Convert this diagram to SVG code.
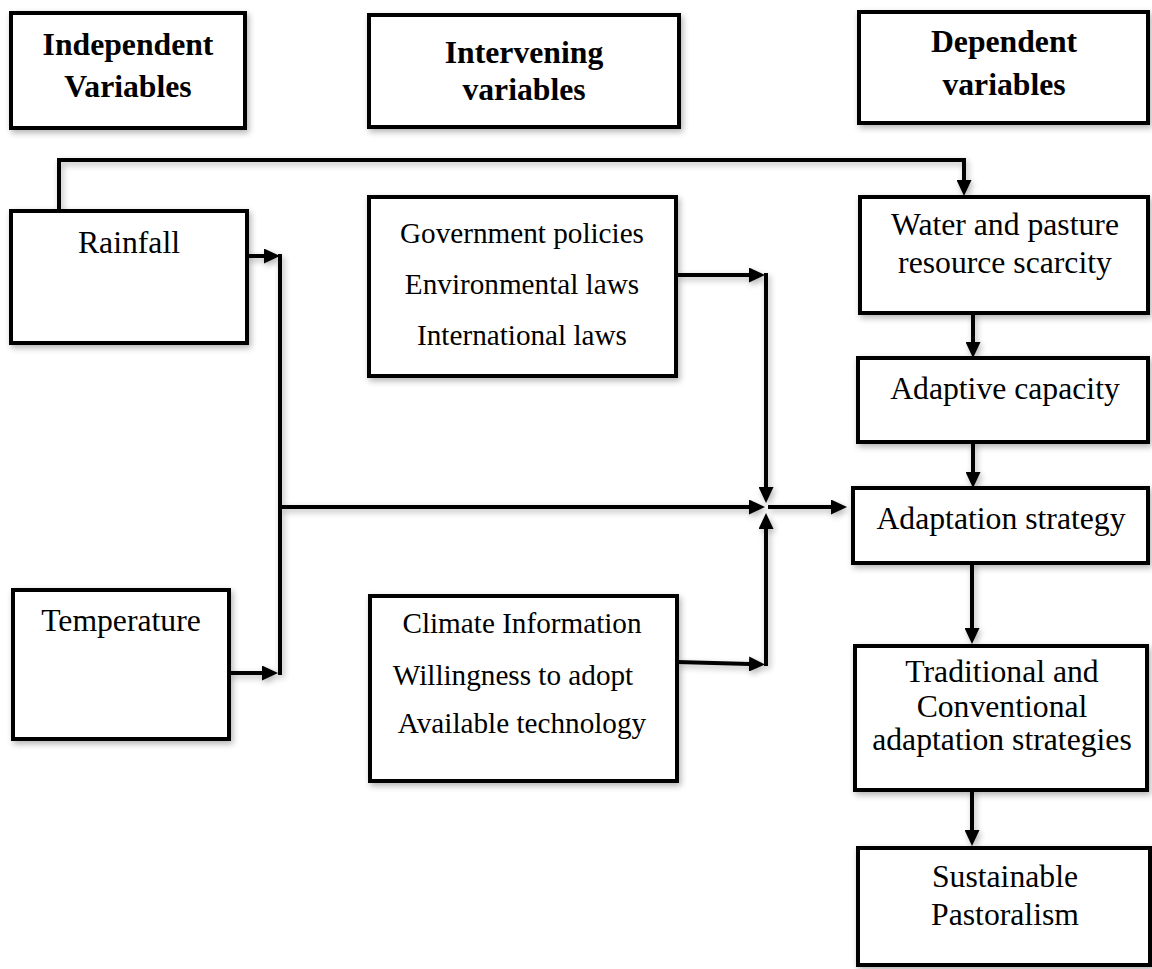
<svg xmlns="http://www.w3.org/2000/svg" width="1152" height="969" viewBox="0 0 1152 969">
<style>
.box{fill:#fff;stroke:#000;stroke-width:4;filter:url(#sh)}
.t{font-family:"Liberation Serif","Times New Roman",serif;font-size:31.7px;fill:#000;text-anchor:middle}
.s{font-size:29.2px}
.b{font-weight:bold}
.c{fill:none;stroke:#000;stroke-width:4;marker-end:url(#ah)}
.n{fill:none;stroke:#000;stroke-width:4}
</style>
<defs>
<filter id="sh" x="-10%" y="-10%" width="125%" height="125%">
<feGaussianBlur in="SourceAlpha" stdDeviation="3"/>
<feOffset dx="2" dy="3" result="b"/>
<feComponentTransfer><feFuncA type="linear" slope="0.3"/></feComponentTransfer>
<feMerge><feMergeNode/><feMergeNode in="SourceGraphic"/></feMerge>
</filter>
<marker id="ah" markerUnits="userSpaceOnUse" markerWidth="16" markerHeight="15" viewBox="0 0 16 15" refX="1" refY="7.5" orient="auto">
<path d="M0,0 L16,7.5 L0,15 z" fill="#000"/>
</marker>
</defs>
<rect width="1152" height="969" fill="#fff"/>
<g id="connectors" filter="url(#sh)">
<path class="c" d="M59,211 V160 H964 V181"/>
<path class="c" d="M247,256 H265"/>
<path class="c" d="M229,673 H263"/>
<path class="n" d="M280,254 V675"/>
<path class="c" d="M282,507 H750"/>
<path class="c" d="M677,275 H750"/>
<path class="c" d="M766,273 V488"/>
<path class="c" d="M677,662 L750,664"/>
<path class="c" d="M766,666 V528"/>
<path class="c" d="M768,507 H832"/>
<path class="c" d="M973,313 V343"/>
<path class="c" d="M973,442 V473"/>
<path class="c" d="M972,563 V629"/>
<path class="c" d="M972,790 V831"/>
</g>
<g id="independent">
<rect class="box" x="11" y="13" width="234" height="115"/>
<text class="t b" x="128" y="55">Independent</text>
<text class="t b" x="128" y="97">Variables</text>
</g>
<g id="intervening">
<rect class="box" x="369" y="15" width="310" height="112"/>
<text class="t b" x="524" y="63">Intervening</text>
<text class="t b" x="524" y="100">variables</text>
</g>
<g id="dependent">
<rect class="box" x="859" y="12" width="289" height="111"/>
<text class="t b" x="1004" y="52">Dependent</text>
<text class="t b" x="1004" y="95">variables</text>
</g>
<g id="rainfall">
<rect class="box" x="11" y="211" width="236" height="132"/>
<text class="t" x="129" y="253">Rainfall</text>
</g>
<g id="temperature">
<rect class="box" x="13" y="590" width="216" height="149"/>
<text class="t" x="121" y="631">Temperature</text>
</g>
<g id="government">
<rect class="box" x="369" y="197" width="307" height="179"/>
<text class="t s" x="522" y="243">Government policies</text>
<text class="t s" x="522" y="294">Environmental laws</text>
<text class="t s" x="522" y="345">International laws</text>
</g>
<g id="climate">
<rect class="box" x="370" y="596" width="307" height="185"/>
<text class="t s" x="522" y="633">Climate Information</text>
<text class="t s" x="513" y="685">Willingness to adopt</text>
<text class="t s" x="522" y="733">Available technology</text>
</g>
<g id="water">
<rect class="box" x="860" y="197" width="288" height="116"/>
<text class="t" x="1005" y="235">Water and pasture</text>
<text class="t" x="1005" y="273">resource scarcity</text>
</g>
<g id="adaptive">
<rect class="box" x="858" y="358" width="290" height="84"/>
<text class="t" x="1005" y="399">Adaptive capacity</text>
</g>
<g id="adaptation">
<rect class="box" x="853" y="488" width="295" height="75"/>
<text class="t" x="1001" y="529">Adaptation strategy</text>
</g>
<g id="traditional">
<rect class="box" x="855" y="646" width="292" height="144"/>
<text class="t" x="1002" y="682">Traditional and</text>
<text class="t" x="1002" y="717">Conventional</text>
<text class="t" x="1002" y="750">adaptation strategies</text>
</g>
<g id="sustainable">
<rect class="box" x="858" y="848" width="292" height="117"/>
<text class="t" x="1005" y="887">Sustainable</text>
<text class="t" x="1005" y="925">Pastoralism</text>
</g>
</svg>
